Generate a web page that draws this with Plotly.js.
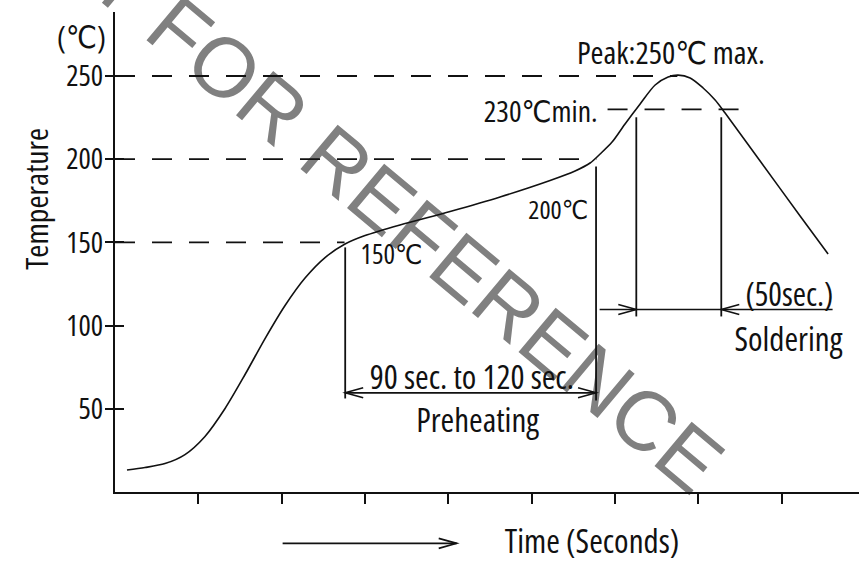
<!DOCTYPE html>
<html><head><meta charset="utf-8">
<script src="https://cdn.plot.ly/plotly-3.0.1.min.js"></script>
<style id="base">html,body{margin:0;padding:0;background:#fff;}</style>
<style id="stretch"></style>
</head><body><div id="chart" style="width:859px;height:562px;"></div>
<script>
// ---- data ----
const timeX = [0.144,0.360,0.600,0.840,1.080,1.321,1.561,1.801,2.041,2.281,2.521,2.761,3.001,3.421,4.022,4.622,5.222,5.522,5.702,5.822,5.966,6.122,6.303,6.483,6.639,6.759,6.903,7.059,7.203,7.323,7.743,8.223,8.559];
const tempY = [13.2,14.7,17.1,22.5,33.4,50.2,70.6,92.2,112.1,128.6,140.9,149.0,154.1,160.5,168.6,177.3,187.2,192.9,197.7,203.1,210.3,221.2,233.2,244.6,249.4,250.5,248.8,242.8,235.6,227.8,198.9,165.9,143.0];
const yTickVals = [50,100,150,200,250];
const xTickVals = [1,2,3,4,5,6,7,8];
const guideLevels = [150,200,250];
const guideEndX = [2.755,5.777,6.75];
const minLevel = 230;
const minLineX = [5.912,7.533];
const markerX = [2.763,5.774,6.257,7.277];
const markerBottom = [56.2,55.0,105.5,105.5];
const markerTop = [147.0,195.6,225.2,225.2];
const preheatY = 59.6;
const preheatX = [2.763,5.774];
const solderY = 109.7;
const solderX = [5.817,8.613];
const solderHeadX = [6.257,7.277];
const labelTexts = ["(℃)","Temperature","150℃","200℃","Peak:250℃ max.","230℃min.","(50sec.)","Soldering","90 sec. to 120 sec.","Preheating","Time (Seconds)"];
const watermarkText = "NOT FOR REFERENCE";

// ---- font choice: narrowest installed face ----
const cv = document.createElement('canvas');
const ctx = cv.getContext('2d');
function famList(f) { return '"' + f + '", "DejaVu Sans", sans-serif'; }
function measure(fam, st, size, txt) {
  ctx.font = (st === 'normal' ? '' : st + ' ') + size + 'px ' + famList(fam);
  if ('fontStretch' in ctx) { try { ctx.fontStretch = st; } catch (e) {} }
  return ctx.measureText(txt).width;
}
function rawW(font, txt) { ctx.font = font; if ('fontStretch' in ctx) { try { ctx.fontStretch = 'normal'; } catch (e) {} } return ctx.measureText(txt).width; }
const PROBE = 'Temperature Preheating Soldering 0123456789';
function hasFamily(f) {
  const a = rawW('50px "' + f + '", monospace', PROBE) !== rawW('50px monospace', PROBE);
  const b = rawW('50px "' + f + '", serif', PROBE) !== rawW('50px serif', PROBE);
  return a || b;
}
const cands = [
  ['Liberation Sans Narrow','normal'], ['Arial Narrow','normal'], ['DejaVu Sans Condensed','normal'],
  ['Roboto Condensed','normal'], ['Open Sans Condensed','normal'], ['Noto Sans Condensed','normal'],
  ['Noto Sans','extra-condensed'], ['Noto Sans','condensed'], ['DejaVu Sans','condensed'],
  ['Open Sans','condensed'], ['Roboto','condensed'], ['Liberation Sans','normal'], ['Roboto','normal']
];
let best = null;
cands.forEach(([fam, st]) => {
  if (!hasFamily(fam)) return;
  const wv = measure(fam, st, 100, PROBE);
  if (st !== 'normal' && wv > measure(fam, 'normal', 100, PROBE) * 0.97) return;
  if (!best || wv < best.w - 0.5) best = {fam: fam, st: st, w: wv};
});
if (!best) best = {fam: 'Liberation Sans', st: 'normal'};
const FONT = famList(best.fam);
if (best.st !== 'normal') {
  document.getElementById('stretch').textContent =
    '#chart .annotation-text, #chart .ytick text { font-stretch: ' + best.st + ' !important; }';
}
const MAX_SIZE = 33;
function fitSize(txt, targetW) {
  const w1 = measure(best.fam, best.st, 100, txt) / 100;
  return Math.min(MAX_SIZE, targetW / w1);
}

// ---- styles ----
const BLACK = "#111";
const Y_RANGE = [0, 288.46];
const X_RANGE = [0, 8.93];

const traces = [];
traces.push({x: timeX, y: tempY, mode: 'lines', line: {color: BLACK, width: 1.6, shape: 'spline', smoothing: 0.8}, hoverinfo: 'skip'});
guideLevels.forEach((lv, i) => {
  traces.push({x: [0, guideEndX[i]], y: [lv, lv], yaxis: 'y2', mode: 'lines', line: {color: BLACK, width: 1.8, dash: '20px,17px'}, hoverinfo: 'skip'});
});
traces.push({x: minLineX, y: [minLevel, minLevel], mode: 'lines', line: {color: BLACK, width: 1.8, dash: '20px,17px'}, hoverinfo: 'skip'});
markerX.forEach((mx, i) => {
  traces.push({x: [mx, mx], y: [markerBottom[i], markerTop[i]], mode: 'lines', line: {color: BLACK, width: 1.8}, hoverinfo: 'skip'});
});
traces.push({x: preheatX, y: [preheatY, preheatY], mode: 'lines', line: {color: BLACK, width: 1.6}, hoverinfo: 'skip'});
traces.push({x: solderX, y: [solderY, solderY], mode: 'lines', line: {color: BLACK, width: 1.6}, hoverinfo: 'skip'});

function head(xref, yref, x, y, dir) {
  const L = 18, H = 5;
  return {type: 'path', xref: xref, yref: yref, xsizemode: 'pixel', ysizemode: 'pixel', xanchor: x, yanchor: y,
    path: 'M ' + (-dir * L) + ' ' + H + ' L 0 0 L ' + (-dir * L) + ' ' + (-H),
    line: {color: BLACK, width: 1.6}, fillcolor: 'rgba(0,0,0,0)', layer: 'above'};
}
const shapes = [];
shapes.push(head('x', 'y', preheatX[0], preheatY, -1));
shapes.push(head('x', 'y', preheatX[1], preheatY, 1));
shapes.push(head('x', 'y', solderHeadX[0], solderY, 1));
shapes.push(head('x', 'y', solderHeadX[1], solderY, -1));
shapes.push({type: 'line', xref: 'paper', yref: 'paper', x0: 0.2253, x1: 0.4593, y0: -0.107, y1: -0.107, line: {color: BLACK, width: 1.6}});
shapes.push(head('paper', 'paper', 0.4593, -0.107, 1));
const wcx = 0.335, wcy = 0.662;
shapes.push({type: 'line', xref: 'paper', yref: 'paper', layer: 'below',
  x0: wcx - 0.0515, y0: wcy + 0.0669, x1: wcx + 0.0515, y1: wcy - 0.0669,
  line: {color: 'rgba(0,0,0,0)', width: 0},
  label: {text: watermarkText, textangle: 'auto', textposition: 'middle', xanchor: 'center', yanchor: 'middle', padding: 0,
    font: {family: 'Liberation Sans, Arial, sans-serif', size: 84, color: '#808080'}}});

const labelTargetW = [49, 142, 62, 60, 188, 114, 88, 116, 209, 129, 185];
const f = (i) => ({family: FONT, size: fitSize(labelTexts[i], labelTargetW[i]), color: BLACK});
const annotations = [
  {text: labelTexts[0], xref: 'paper', yref: 'paper', x: -0.0444, y: 0.95, font: f(0)},
  {text: labelTexts[1], xref: 'paper', yref: 'paper', x: -0.1075, y: 0.6104, textangle: -90, font: f(1)},
  {text: labelTexts[2], x: 3.313, y: 143.6, font: f(2)},
  {text: labelTexts[3], x: 5.318, y: 170, font: f(3)},
  {text: labelTexts[4], x: 6.675, y: 264.4, font: f(4)},
  {text: labelTexts[5], x: 5.102, y: 229, font: f(5)},
  {text: labelTexts[6], x: 8.091, y: 119, font: f(6)},
  {text: labelTexts[7], x: 8.079, y: 92.5, font: f(7)},
  {text: labelTexts[8], x: 4.286, y: 69.7, font: f(8)},
  {text: labelTexts[9], x: 4.346, y: 43.3, font: f(9)},
  {text: labelTexts[10], xref: 'paper', yref: 'paper', x: 0.641, y: -0.1, font: f(10)}
].map(a => Object.assign({showarrow: false, xanchor: 'center', yanchor: 'middle', borderpad: 0}, a));

const tickSize = Math.min(MAX_SIZE, 37 / (measure(best.fam, best.st, 100, '250') / 100));
const layout = {
  width: 859, height: 562,
  margin: {l: 115, r: 0, t: 12, b: 70},
  paper_bgcolor: '#fff', plot_bgcolor: '#fff',
  showlegend: false,
  xaxis: {range: X_RANGE, showline: true, linewidth: 2, linecolor: BLACK, ticks: 'outside', ticklen: 10, tickwidth: 2, tickcolor: BLACK,
    tickvals: xTickVals, showticklabels: false, showgrid: false, zeroline: false, fixedrange: true},
  yaxis: {range: Y_RANGE, showline: true, linewidth: 2, linecolor: BLACK, ticks: 'outside', ticklen: 8, tickwidth: 2, tickcolor: BLACK,
    tickvals: yTickVals, ticktext: yTickVals.map(String), tickfont: {family: FONT, size: tickSize, color: BLACK},
    ticklabelstandoff: -4, showgrid: false, zeroline: false, fixedrange: true},
  yaxis2: {range: Y_RANGE, overlaying: 'y', anchor: 'x', side: 'left', ticks: 'inside', ticklen: 9, tickwidth: 2, tickcolor: BLACK,
    tickvals: yTickVals, showticklabels: false, showline: false, showgrid: false, zeroline: false, fixedrange: true},
  shapes: shapes,
  annotations: annotations
};
Plotly.newPlot('chart', traces, layout, {displayModeBar: false, staticPlot: true});
</script>
</body></html>
